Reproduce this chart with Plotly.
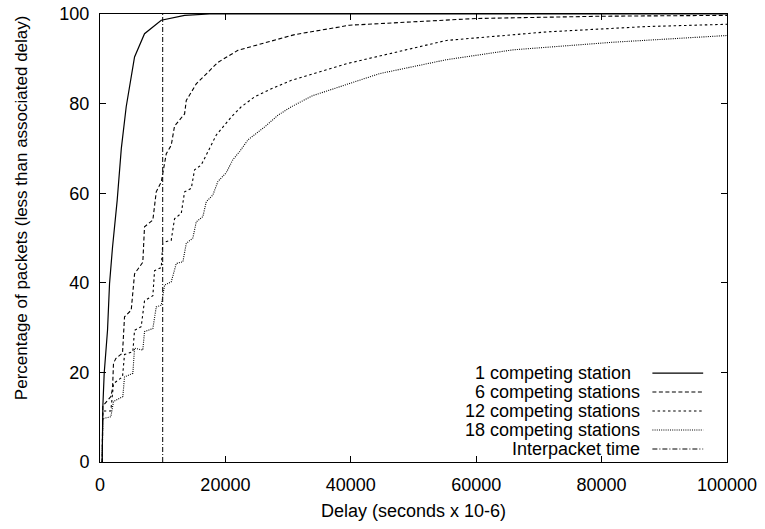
import plotly.graph_objects as go

# ---------------- data ----------------
one_x = [350, 450, 670, 1200, 1520, 2000, 2740, 3400, 4180, 5510, 7100, 9770, 13490, 17480, 100000]
one_y = [0, 12.2, 19.8, 29.4, 39.8, 48, 58.4, 70, 79.3, 90.4, 95.6, 98.6, 99.7, 100, 100]

six_x = [350, 450, 1730, 2000, 2150, 2520, 3590, 3910, 4980, 5510, 6830, 7100, 8430, 8970, 9770,
         10570, 11360, 11890, 13490, 13760, 15350, 17480, 18800, 22000, 26780, 31050, 39820,
         60050, 79730, 100000]
six_y = [0, 12.5, 14.6, 16.4, 22, 23.1, 24.3, 32.4, 33.9, 42, 44.6, 52.5, 54, 60.3, 62.5,
         68.8, 70.7, 75, 77.7, 80.7, 84.4, 87.4, 89.2, 91.9, 93.8, 95.4, 97.5,
         99.0, 99.5, 99.7]

twelve_x = [350, 450, 1730, 2150, 3590, 3910, 5240, 5510, 6570, 7100, 8430, 8700, 9770, 10020,
            11360, 11890, 12960, 13490, 14560, 15080, 16150, 17210, 18550, 20940, 22540, 24660,
            27330, 30520, 39300, 55260, 71220, 87180, 100000]
twelve_y = [0, 11.4, 11.4, 17.5, 19.0, 24.0, 24.6, 29.4, 30.2, 36.0, 37.1, 42.7, 43.4, 49.0,
            49.5, 54.3, 55.5, 60.3, 61.1, 65.2, 66.3, 69.3, 73.0, 77.0, 79.3, 81.5,
            83.3, 85.2, 88.9, 94.1, 96.0, 97.2, 97.7]

eighteen_x = [350, 450, 1730, 2150, 3640, 3910, 5240, 5510, 6830, 7100, 8430, 8970, 9770, 10300,
              11360, 12160, 13220, 13760, 14810, 15350, 16410, 16950, 18000, 18800, 20140, 21200,
              22270, 23590, 26260, 28380, 30510, 33970, 44610, 55260, 65890, 81850, 100000]
eighteen_y = [0, 9.7, 10.1, 13.5, 14.6, 19.0, 19.8, 25.4, 25.0, 29.1, 29.8, 34.6, 35.0, 39.5,
              40.2, 44.3, 44.7, 48.8, 50.0, 53.6, 54.8, 58.1, 59.6, 62.6, 64.6, 67.5,
              69.3, 71.9, 74.8, 77.4, 79.3, 81.8, 86.7, 89.8, 92.0, 93.7, 95.2]

interpacket_x = [10000, 10000]
interpacket_y = [0, 100]

series_names = ["1 competing station\u2002", "6 competing stations", "12 competing stations",
                "18 competing stations", "Interpacket time"]
x_ticks = [0, 20000, 40000, 60000, 80000, 100000]
y_ticks = [0, 20, 40, 60, 80, 100]
x_title = "Delay (seconds x 10-6)"
y_title = "Percentage of packets (less than associated delay)"

# ---------------- styling ----------------
FONT = "Liberation Sans, Arial, Helvetica, sans-serif"
dashes = ["solid", "4px,2.5px", "2.5px,2.7px", "1px,1.2px", "5px,2px,1px,2px"]
widths = [1.2, 1.1, 1.1, 1.1, 1.0]

series = [(one_x, one_y), (six_x, six_y), (twelve_x, twelve_y),
          (eighteen_x, eighteen_y), (interpacket_x, interpacket_y)]

fig = go.Figure()
for (xs, ys), name, d, w in zip(series, series_names, dashes, widths):
    fig.add_trace(go.Scatter(x=xs, y=ys, mode="lines", name=name, showlegend=False,
                             line=dict(color="black", width=w, dash=d)))

# custom gnuplot-style key (text right-aligned, sample to the right)
row_y = [0.1985, 0.1561, 0.1137, 0.0714, 0.0290]
for name, d, w, ry in zip(series_names, dashes, widths, row_y):
    fig.add_annotation(xref="paper", yref="paper", x=0.863, y=ry, text=name,
                       showarrow=False, xanchor="right", yanchor="middle", borderpad=0,
                       font=dict(family=FONT, size=18, color="black"))
    fig.add_shape(type="line", xref="paper", yref="paper", x0=0.881, x1=0.962, y0=ry, y1=ry,
                  line=dict(color="black", width=w, dash=d))

# y-axis title placed as in the reference (slightly above the plot centre)
fig.add_annotation(xref="paper", yref="paper", x=-0.125, y=0.568, text=y_title,
                   textangle=-90, showarrow=False, xanchor="center", yanchor="middle",
                   font=dict(family=FONT, size=17, color="black"))

axis_common = dict(showline=True, linecolor="black", linewidth=1, mirror="ticks",
                   ticks="inside", ticklen=6, tickcolor="black", tickwidth=1,
                   showgrid=False, zeroline=False, automargin=False,
                   tickfont=dict(family=FONT, size=18, color="black"))

fig.update_xaxes(range=[0, 100000], tickvals=x_ticks, ticktext=[str(v) for v in x_ticks],
                 title=dict(text=x_title, font=dict(family=FONT, size=18, color="black"),
                            standoff=10),
                 ticklabelstandoff=6, **axis_common)
fig.update_yaxes(range=[0, 100], tickvals=y_ticks, ticktext=[str(v) for v in y_ticks],
                 ticklabelstandoff=6, **axis_common)

fig.update_layout(width=765, height=529, margin=dict(l=100, r=38, t=14, b=67),
                  paper_bgcolor="white", plot_bgcolor="white",
                  font=dict(family=FONT, size=18, color="black"))

fig.write_html("out.html")
